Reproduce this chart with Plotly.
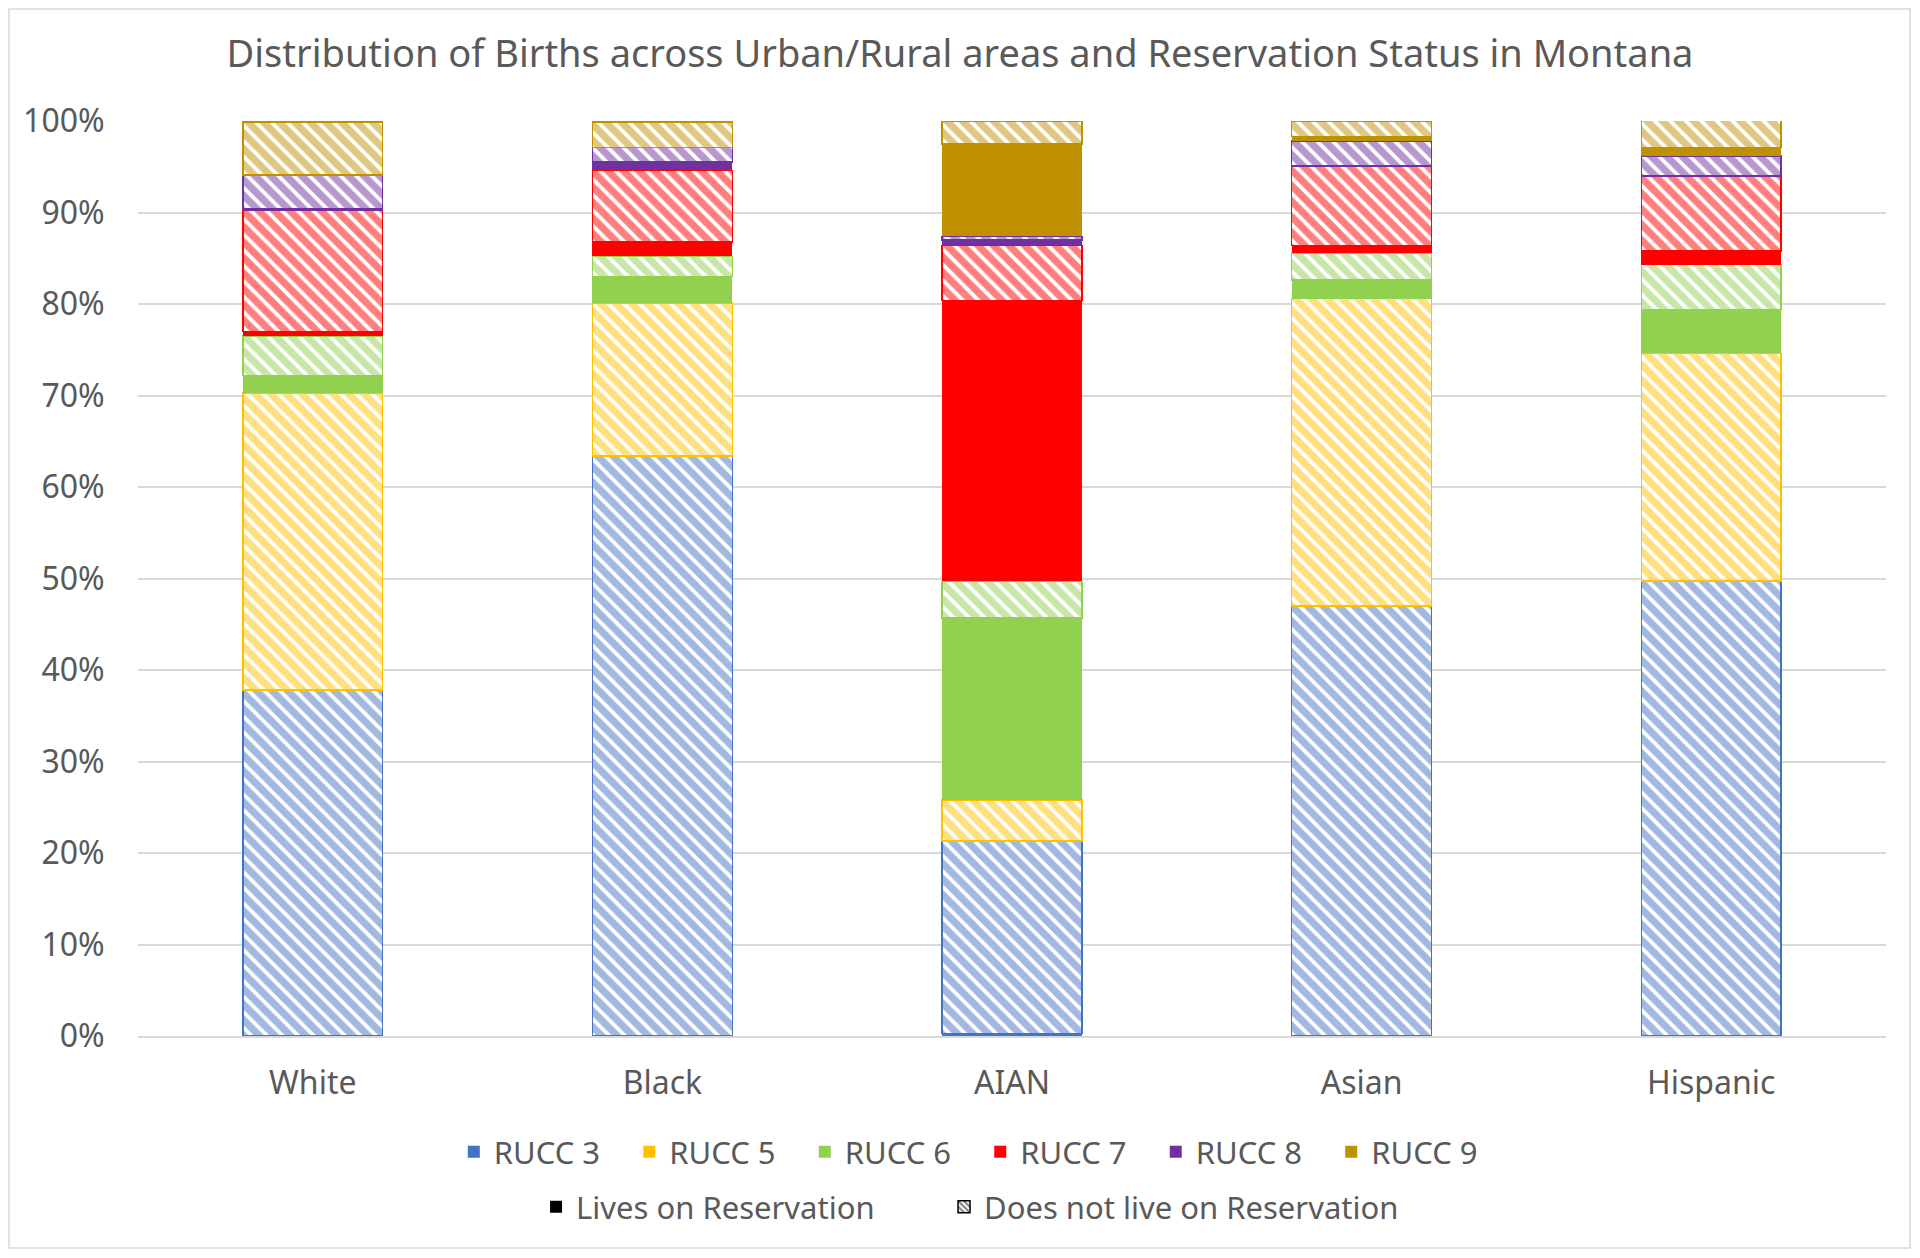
import plotly.graph_objects as go

categories = ["White", "Black", "AIAN", "Asian", "Hispanic"]
rucc_names = ["RUCC 3", "RUCC 5", "RUCC 6", "RUCC 7", "RUCC 8", "RUCC 9"]
rucc_colors = ["#4472C4", "#FFC000", "#92D050", "#FF0000", "#7030A0", "#BF9000"]

# Share of births (%), lives on reservation (solid)
on_res_rucc3 = [0.0, 0.0, 0.3, 0.0, 0.0]
on_res_rucc5 = [0.0, 0.0, 0.0, 0.0, 0.0]
on_res_rucc6 = [1.9, 2.9, 19.9, 2.0, 4.8]
on_res_rucc7 = [0.5, 1.6, 30.7, 0.8, 1.5]
on_res_rucc8 = [0.2, 0.9, 0.6, 0.0, 0.0]
on_res_rucc9 = [0.0, 0.0, 10.1, 0.5, 0.9]

# Share of births (%), does not live on reservation (hatched)
off_res_rucc3 = [37.8, 63.4, 21.0, 47.0, 49.7]
off_res_rucc5 = [32.5, 16.7, 4.5, 33.6, 24.9]
off_res_rucc6 = [4.3, 2.2, 4.0, 3.0, 4.9]
off_res_rucc7 = [13.2, 7.8, 6.0, 8.7, 8.2]
off_res_rucc8 = [3.7, 1.6, 0.4, 2.7, 2.2]
off_res_rucc9 = [5.8, 2.8, 2.5, 1.7, 3.0]

on_res = [on_res_rucc3, on_res_rucc5, on_res_rucc6, on_res_rucc7, on_res_rucc8, on_res_rucc9]
off_res = [off_res_rucc3, off_res_rucc5, off_res_rucc6, off_res_rucc7, off_res_rucc8, off_res_rucc9]

title_text = "Distribution of Births across Urban/Rural areas and Reservation Status in Montana"
FONT = "Noto Sans"
TXT = "#595959"
NB = "\u00a0"

fig = go.Figure()

for name, color, solid, hatched in zip(rucc_names, rucc_colors, on_res, off_res):
    fig.add_trace(go.Bar(
        x=categories, y=[v / 100 for v in solid], name=name + " (on reservation)",
        marker=dict(color=color, line=dict(width=0)), showlegend=False,
    ))
    fig.add_trace(go.Bar(
        x=categories, y=[v / 100 for v in hatched], name=name + " (off reservation)",
        marker=dict(color="white", line=dict(color=color, width=1.5),
                    pattern=dict(shape="\\", fgcolor=color, bgcolor="white", size=11, solidity=0.65)),
        showlegend=False,
    ))

# Legend entries (no data)
for i, (name, color) in enumerate(zip(rucc_names, rucc_colors)):
    label = name + (NB * 3 if i < len(rucc_names) - 1 else "")
    fig.add_trace(go.Bar(x=[None], y=[None], name=label,
                         marker=dict(color=color, line=dict(width=0)),
                         legend="legend", showlegend=True, hoverinfo="skip"))
fig.add_trace(go.Bar(x=[None], y=[None], name="Lives on Reservation" + NB * 8,
                     marker=dict(color="black", line=dict(width=0)),
                     legend="legend2", showlegend=True, hoverinfo="skip"))
fig.add_trace(go.Bar(x=[None], y=[None], name="Does not live on Reservation",
                     marker=dict(color="white", line=dict(color="black", width=1.5),
                                 pattern=dict(shape="\\", fgcolor="black", bgcolor="white", size=5, solidity=0.5)),
                     legend="legend2", showlegend=True, hoverinfo="skip"))

fig.update_layout(
    width=1904, height=1242,
    barmode="stack", bargap=0.6,
    paper_bgcolor="white", plot_bgcolor="white",
    margin=dict(l=130, r=26, t=113, b=214),
    font=dict(family=FONT, color=TXT, size=32),
    title=dict(text=title_text, x=0.5, xanchor="center", y=0.963, yanchor="middle",
               font=dict(family=FONT, size=38, color=TXT)),
    xaxis=dict(showgrid=False, showline=True, linecolor="#d9d9d9", linewidth=1.5,
               ticks="outside", ticklen=18, tickcolor="rgba(0,0,0,0)",
               tickfont=dict(size=32, color=TXT)),
    yaxis=dict(range=[0, 1], tickformat=".0%", dtick=0.1, showgrid=True,
               gridcolor="#d9d9d9", gridwidth=1.5, zeroline=False, showline=False,
               ticks="outside", ticklen=26, tickcolor="rgba(0,0,0,0)",
               tickfont=dict(size=32, color=TXT)),
    legend=dict(orientation="h", x=0.475, xanchor="center", y=-0.127, yanchor="middle",
                font=dict(size=31, color=TXT), traceorder="normal",
                itemwidth=30, tracegroupgap=0, bgcolor="rgba(0,0,0,0)"),
    legend2=dict(orientation="h", x=0.476, xanchor="center", y=-0.187, yanchor="middle",
                 font=dict(size=31, color=TXT), traceorder="normal",
                 itemwidth=30, bgcolor="rgba(0,0,0,0)"),
    shapes=[dict(type="rect", xref="paper", yref="paper",
                 x0=-0.0738, x1=1.0137, y0=-0.2317, y1=1.1224,
                 line=dict(color="#d9d9d9", width=1.5), fillcolor="rgba(0,0,0,0)", layer="below")],
)

fig.write_html("out.html")
